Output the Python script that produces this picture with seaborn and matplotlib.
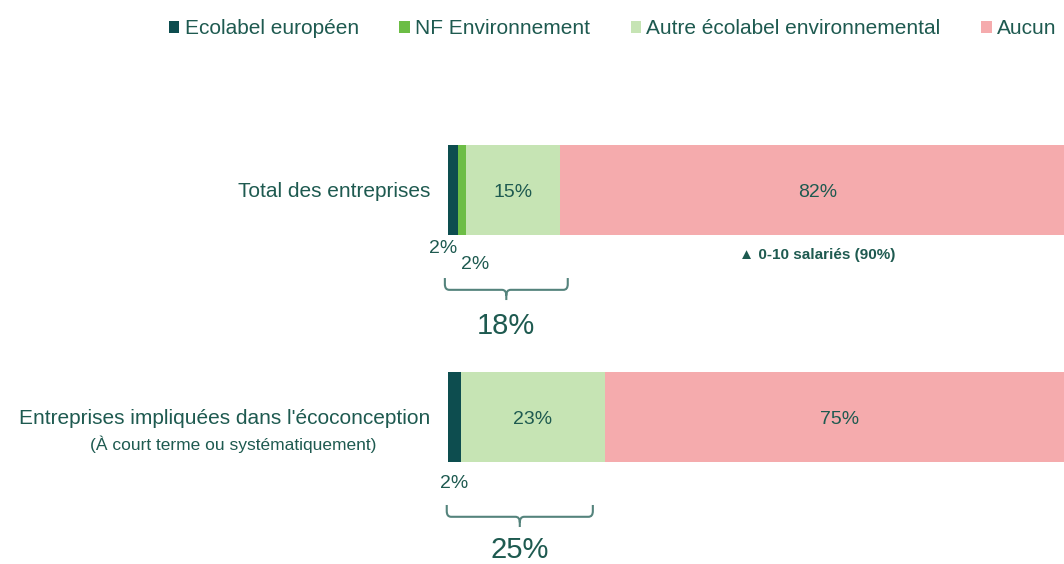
import numpy as np
import matplotlib
matplotlib.use("Agg")
import matplotlib.pyplot as plt
from matplotlib.patches import Patch, PathPatch
from matplotlib.path import Path
import seaborn as sns

# données
categories = ["Total des entreprises", "Entreprises impliquées dans l'écoconception"]
sous_titres = ["", "(À court terme ou systématiquement)"]
series = ["Ecolabel européen", "NF Environnement", "Autre écolabel environnemental", "Aucun"]
ecolabel_eu = [1.6, 2.0]
nf_env = [1.3, 0.0]
autre = [15.0, 23.0]
aucun = [82.0, 75.0]
etiquettes = [["2%", "2%", "15%", "82%"], ["2%", "", "23%", "75%"]]
totaux = ["18%", "25%"]
note_total = "▲ 0-10 salariés (90%)"

couleurs = ["#0d4d4f", "#6cbd45", "#c6e4b4", "#f5abad"]
texte = "#1e5a50"
accolade = "#54837c"

sns.set_style("white")
plt.rcParams["font.family"] = ["Liberation Sans", "DejaVu Sans"]

fig = plt.figure(figsize=(10.64, 5.64), dpi=100)
ax = fig.add_axes([448 / 1064, 0, 627 / 1064, 1])

valeurs = np.array([ecolabel_eu, nf_env, autre, aucun])
cumul = valeurs.cumsum(axis=0)

# barres empilées : on dessine les cumuls du plus grand au plus petit
for i in reversed(range(len(series))):
    sns.barplot(x=cumul[i], y=categories, color=couleurs[i], orient="h",
                width=0.4, saturation=1, linewidth=0, ax=ax)

ax.set_xlim(0, 100)
ax.set_ylim(1.648, -0.837)
ax.set_xlabel("")
ax.set_ylabel("")
ax.set_xticks([])
sns.despine(ax=ax, left=True, bottom=True)
ax.tick_params(axis="y", length=0, pad=13, labelsize=15, labelcolor=texte)

# sous-titre de la 2e catégorie
for j, st in enumerate(sous_titres):
    if st:
        ax.annotate(st, xy=(0, j), xytext=(-155, -20), textcoords="offset points",
                    ha="center", va="center", fontsize=12.5, color=texte,
                    annotation_clip=False)

# étiquettes dans les barres
gauche = cumul - valeurs
for j in range(len(categories)):
    for i in [2, 3]:
        ax.text(gauche[i, j] + valeurs[i, j] / 2, j + 0.01, etiquettes[j][i],
                ha="center", va="center", fontsize=14, color=texte)

# petites étiquettes sous les barres
decalages = [[(-1.5, 0.26), (2.0, 0.33)], [(0.0, 0.295), None]]
for j in range(len(categories)):
    for i in [0, 1]:
        if decalages[j][i] is None or not etiquettes[j][i]:
            continue
        dx, dy = decalages[j][i]
        ax.text(gauche[i, j] + valeurs[i, j] / 2 + dx, j + dy, etiquettes[j][i],
                ha="center", va="center", fontsize=14, color=texte, clip_on=False)

# note sous le segment "Aucun"
ax.text(gauche[3, 0] + valeurs[3, 0] / 2, 0.285, note_total, ha="center", va="center",
        fontsize=11, fontweight="bold", color=texte)

# accolades et totaux
bornes = [(-0.5, 19.1), (-0.2, 23.1)]
rx, ry = 0.7, 0.025
for j, (x0, x1) in enumerate(bornes):
    xm = (x0 + x1) / 2
    yh, yb, ys = j + 0.388, j + 0.44, j + 0.485
    sommets = [(x0, yh), (x0, yb - ry), (x0, yb), (x0 + rx, yb),
               (xm - rx, yb), (xm, yb), (xm, yb + ry), (xm, ys),
               (xm, yb + ry), (xm, yb), (xm + rx, yb),
               (x1 - rx, yb), (x1, yb), (x1, yb - ry), (x1, yh)]
    codes = [Path.MOVETO, Path.LINETO, Path.CURVE3, Path.CURVE3,
             Path.LINETO, Path.CURVE3, Path.CURVE3, Path.LINETO,
             Path.MOVETO, Path.CURVE3, Path.CURVE3,
             Path.LINETO, Path.CURVE3, Path.CURVE3, Path.LINETO]
    ax.add_patch(PathPatch(Path(sommets, codes), facecolor="none", edgecolor=accolade,
                           lw=1.5, clip_on=False))
    ax.text(xm, j + 0.6 - 0.015 * j, totaux[j], ha="center", va="center", fontsize=21,
            color=texte, clip_on=False)

# légende
poignees = [Patch(facecolor=c, edgecolor="none") for c in couleurs]
fig.legend(poignees, series, loc="center left", bbox_to_anchor=(169 / 1064, 1 - 29 / 564),
           ncol=4, frameon=False, fontsize=15, handlelength=0.5, handleheight=0.5,
           handletextpad=0.25, columnspacing=1.95, borderpad=0, borderaxespad=0,
           labelcolor=texte)

fig.savefig("out.png", dpi=100)
